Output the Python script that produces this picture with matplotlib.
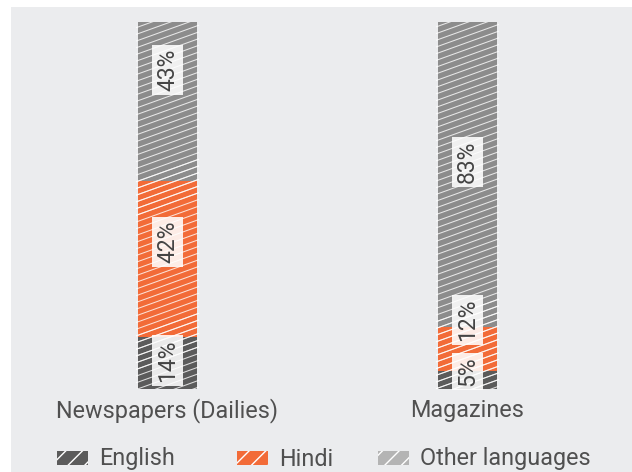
import matplotlib
matplotlib.use('Agg')
import matplotlib.pyplot as plt
from matplotlib.patches import Rectangle
from matplotlib.collections import LineCollection
from matplotlib.transforms import IdentityTransform
import numpy as np

categories = ['Newspapers (Dailies)', 'Magazines']
series = ['English', 'Hindi', 'Other languages']
english = [14, 5]
hindi = [42, 12]
other = [43, 83]

colors = ['#5b5b5b', '#f26b38', '#8c8c8c']
legend_colors = ['#5b5b5b', '#f26b38', '#b4b4b4']

# layout: where each value label sits inside its segment (fraction of segment height)
label_frac = [[0.55, 0.61, 0.70], [0.95, 1.15, 0.54]]
# layout: left edge (px) of each legend swatch
legend_x_px = [57, 237, 378]

plt.rcParams['font.family'] = ['Roboto', 'DejaVu Sans']
plt.rcParams['font.weight'] = 'normal'

W, H = 632, 472
fig = plt.figure(figsize=(W / 100, H / 100), dpi=100)
fig.patch.set_facecolor('white')
fig.patches.append(Rectangle((11 / W, 0), 1 - 11 / W, 1 - 7 / H, transform=fig.transFigure,
                             facecolor='#ebecee', edgecolor='none', zorder=-10))

ax = fig.add_axes([17.5 / W, 83 / H, 600 / W, 367 / H])
ax.set_xlim(-0.5, 1.5)
ax.set_ylim(0, 100)
ax.axis('off')

vals = np.array([english, hindi, other], dtype=float)
pct = vals / vals.sum(axis=0) * 100
x = np.arange(len(categories))
width = 0.197

bottoms = np.zeros(len(categories))
bar_groups = []
for k in range(len(series)):
    bars = ax.bar(x, pct[k], bottom=bottoms, width=width, color=colors[k], linewidth=0, zorder=2)
    bar_groups.append((bars, bottoms.copy()))
    bottoms += pct[k]

# custom shallow hatch lines clipped to each bar segment
slope = 0.36
dv = 6.7
for bars, _ in bar_groups:
    for patch in bars:
        bb = patch.get_window_extent()
        cmin = bb.y0 - slope * bb.x1 - dv
        cmax = bb.y1 - slope * bb.x0 + dv
        cs = np.arange(np.floor(cmin / dv) * dv, cmax, dv)
        segs = [[(bb.x0 - 2, slope * (bb.x0 - 2) + c), (bb.x1 + 2, slope * (bb.x1 + 2) + c)] for c in cs]
        lc = LineCollection(segs, transform=IdentityTransform(), colors='white',
                            linewidths=0.75, alpha=0.8, zorder=3)
        lc.set_clip_path(patch)
        ax.add_collection(lc, autolim=False)

# value labels
for k in range(len(series)):
    for i in range(len(categories)):
        y = bar_groups[k][1][i] + label_frac[i][k] * pct[k][i]
        ax.text(x[i], y, f'{int(vals[k][i])}%', rotation=90, ha='center', va='center',
                fontsize=16.5, color='#444444', zorder=5,
                bbox=dict(boxstyle='square,pad=0.17', fc='white', ec='none', alpha=0.88))

# category labels
for i, cat in enumerate(categories):
    ax.annotate(cat, xy=(x[i], 0), xycoords=('data', 'axes fraction'),
                xytext=(0, -15.5), textcoords='offset points',
                ha='center', va='center', fontsize=16.8, color='#505050')

# legend (manual placement)
sw_w, sw_h, y_c = 31, 14, 14
for name, c, lx in zip(series, legend_colors, legend_x_px):
    fig.add_artist(Rectangle((lx / W, (y_c - sw_h / 2) / H), sw_w / W, sw_h / H,
                             transform=fig.transFigure, facecolor=c, edgecolor='white',
                             hatch='//', linewidth=0))
    fig.text((lx + sw_w + 11) / W, (y_c - 1) / H, name, ha='left', va='center',
             fontsize=16.8, color='#505050')

fig.savefig('out.png', dpi=100, facecolor='white')
